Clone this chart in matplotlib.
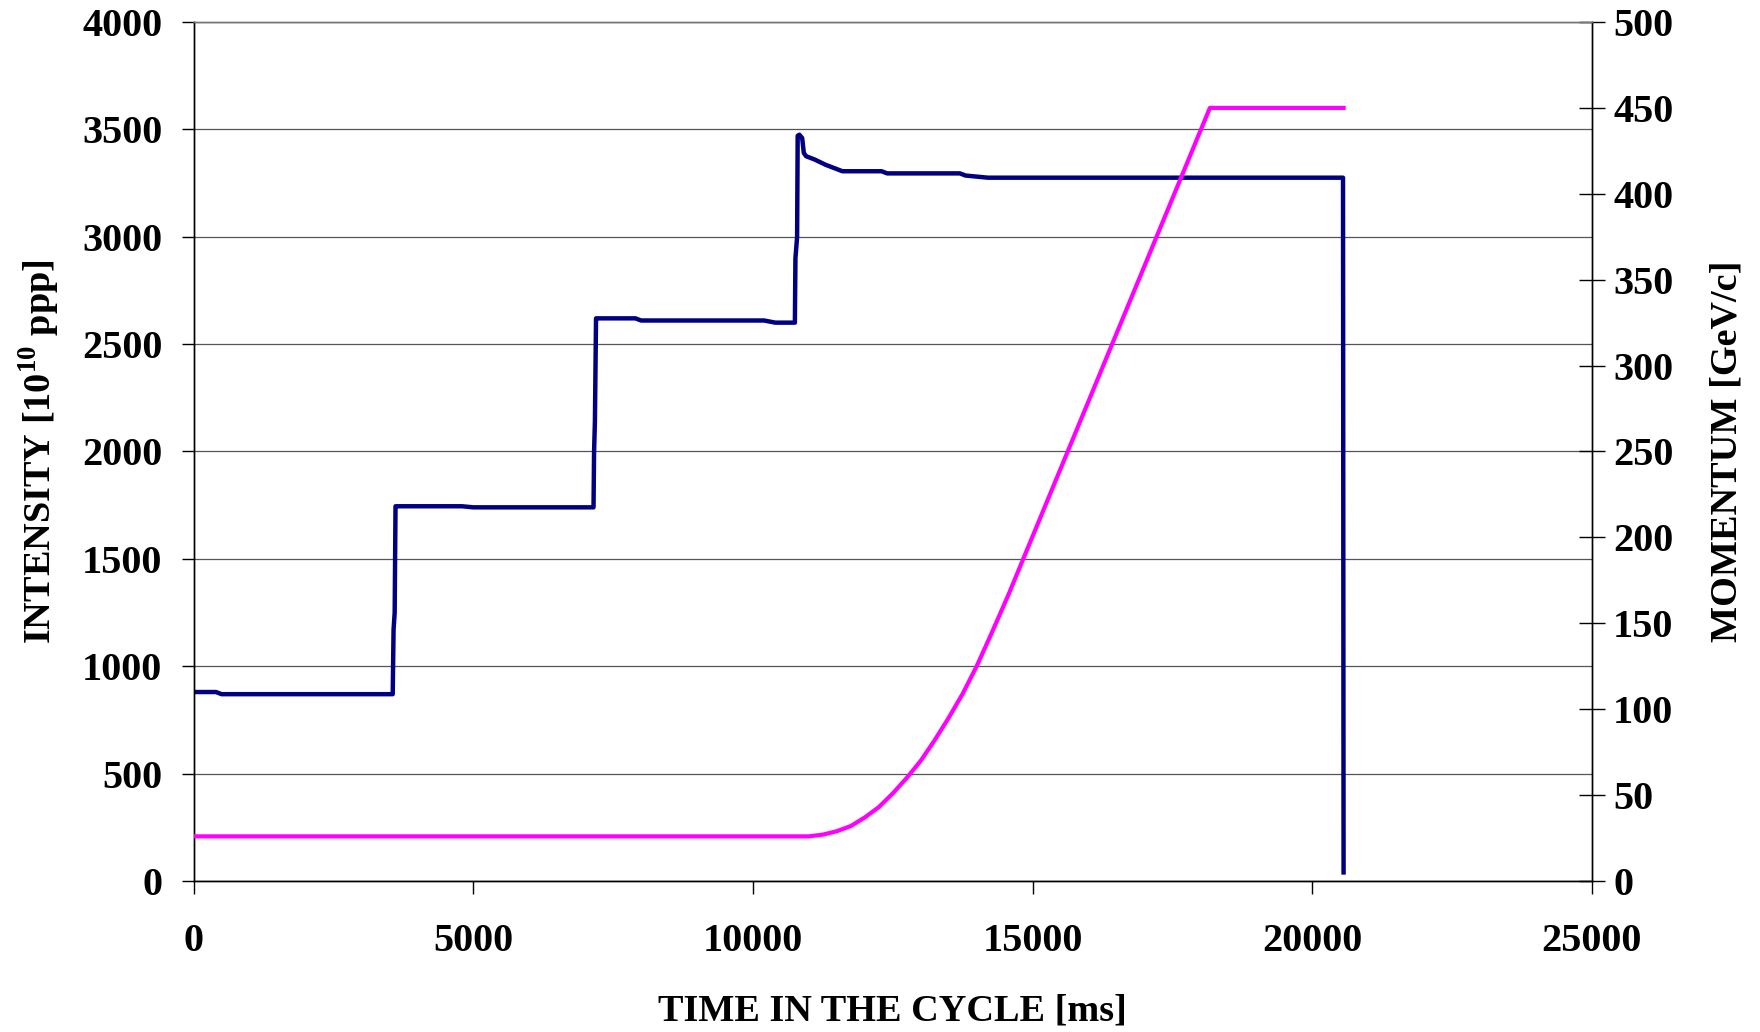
import matplotlib.pyplot as plt

plt.rcParams['font.family'] = ['Liberation Serif', 'DejaVu Serif']
plt.rcParams['font.weight'] = 'bold'
plt.rcParams['mathtext.fontset'] = 'custom'
plt.rcParams['mathtext.rm'] = 'Liberation Serif:bold'
plt.rcParams['mathtext.bf'] = 'Liberation Serif:bold'

# intensity (10^10 ppp) vs time in cycle (ms)
t_int = [0, 400, 500, 900, 3560, 3575, 3595, 3610, 3620, 4800, 5000, 7150,
         7160, 7175, 7195, 7210, 7900, 8000, 10200, 10400, 10750, 10760,
         10790, 10800, 10830, 10880, 10910, 10950, 11100, 11300, 11600,
         12300, 12400, 13700, 13800, 14200, 20550, 20560]
intensity = [880, 880, 870, 870, 870, 1170, 1250, 1745, 1745, 1745, 1740, 1740,
             2000, 2140, 2620, 2620, 2620, 2610, 2610, 2600, 2600, 2900,
             3000, 3470, 3475, 3460, 3390, 3375, 3360, 3335, 3305,
             3305, 3295, 3295, 3285, 3275, 3275, 40]

# momentum (GeV/c) vs time in cycle (ms)
t_mom = [0, 11000, 11250, 11500, 11750, 12000, 12250, 12500, 12750, 13000,
         13250, 13500, 13750, 14000, 14250, 14560, 18170, 18300, 20560]
momentum = [26, 26, 27, 29, 32, 37, 43, 51, 60, 70, 82, 95, 109, 125, 143,
            166, 450, 450, 450]

x_ticks = [0, 5000, 10000, 15000, 20000, 25000]
left_ticks = list(range(0, 4001, 500))
right_ticks = list(range(0, 501, 50))

fig = plt.figure(figsize=(17.6, 10.32), dpi=100)
ax = fig.add_axes([0.110, 0.1463, 0.7945, 0.8324])
ax2 = ax.twinx()

ax.plot(t_int, intensity, color='#000080', lw=3.2, solid_joinstyle='round', zorder=3)
ax2.plot(t_mom, momentum, color='#FF00FF', lw=3.0, zorder=3)

ax.set_xlim(0, 25000)
ax.set_ylim(0, 4000)
ax2.set_ylim(0, 500)
ax.set_xticks(x_ticks)
ax.set_yticks(left_ticks)
ax2.set_yticks(right_ticks)

ax.grid(axis='y', color='#555555', lw=0.9)
ax.set_axisbelow(True)

for a in (ax, ax2):
    for s in a.spines.values():
        s.set_linewidth(1.0)
    a.spines['top'].set_color('#777777')

ax.tick_params(axis='y', direction='out', length=8.6, width=1, pad=14, labelsize=29)
ax.tick_params(axis='x', direction='out', length=9.4, width=1, pad=21, labelsize=29)
ax2.tick_params(axis='y', direction='inout', length=18.7, width=1, pad=6, labelsize=29)

ax.set_xlabel('TIME IN THE CYCLE [ms]', fontsize=27.5, fontweight='bold', labelpad=24)
ax.set_ylabel(r'INTENSITY [10$^{10}$ ppp]', fontsize=27.5, fontweight='bold', labelpad=14)
ax2.set_ylabel('MOMENTUM [GeV/c]', fontsize=27.5, fontweight='bold', labelpad=26)

fig.savefig('out.png', dpi=100)
